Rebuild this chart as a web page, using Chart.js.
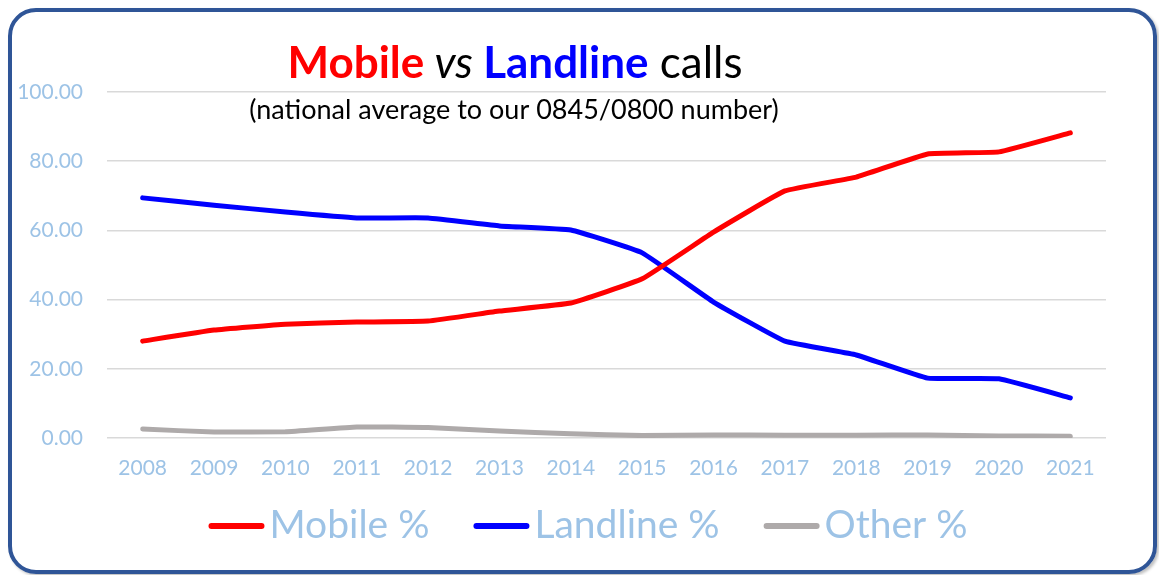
<!DOCTYPE html>
<html lang="en">
<head>
<meta charset="UTF-8">
<title>Mobile vs Landline calls</title>
<script src="https://cdn.jsdelivr.net/npm/chart.js@4.4.1/dist/chart.umd.min.js"></script>
<style>
	html, body { margin: 0; padding: 0; background: #fff; }
	#wrap { position: relative; width: 1159px; height: 575px; overflow: hidden; }
	#marco {
		position: absolute; left: 8px; top: 8px; width: 1149px; height: 566px;
		box-sizing: border-box; border: 4px solid #2F5597; border-radius: 28px;
		box-shadow: 2px 2px 3px rgba(0,0,0,0.25); pointer-events: none;
	}
	#pizarra { position: absolute; left: 0; top: 0; }
</style>
</head>
<body>
<div id="wrap">
	<canvas id="pizarra" width="1159" height="575"></canvas>
	<div id="marco"></div>
</div>
<script>
	// datos
	const years = ['2008','2009','2010','2011','2012','2013','2014','2015','2016','2017','2018','2019','2020','2021']
	const mobile = [28.0, 31.2, 32.9, 33.5, 33.8, 36.7, 39.0, 46.0, 59.5, 71.4, 75.4, 82.1, 82.7, 88.2]
	const landline = [69.4, 67.3, 65.3, 63.6, 63.6, 61.3, 60.1, 53.5, 39.3, 28.0, 24.0, 17.3, 17.1, 11.6]
	const other = [2.6, 1.7, 1.8, 3.2, 3.0, 2.0, 1.2, 0.7, 0.9, 0.8, 0.8, 0.9, 0.6, 0.5]
	const seriesNames = ['Mobile %', 'Landline %', 'Other %']
	const yTicks = [0, 20, 40, 60, 80, 100]

	const FONT = 'Lato, "Open Sans", sans-serif'
	const TICK_COLOR = '#9DC3E6'

	// titulo con colores mezclados
	const titleParts = [
		{ text: 'Mobile', color: '#FF0000', weight: 'bold', style: 'normal' },
		{ text: ' vs ', color: '#000000', weight: 'normal', style: 'italic' },
		{ text: 'Landline', color: '#0000FF', weight: 'bold', style: 'normal' },
		{ text: ' calls', color: '#000000', weight: 'normal', style: 'normal' }
	]
	const subtitle = '(national average to our 0845/0800 number)'

	const tituloPlugin = {
		id: 'titulo',
		afterDraw(chart) {
			const ctx = chart.ctx
			ctx.save()
			ctx.textBaseline = 'alphabetic'
			ctx.textAlign = 'left'
			const size = 44
			let total = 0
			titleParts.forEach(p => {
				ctx.font = p.style + ' ' + p.weight + ' ' + size + 'px ' + FONT
				p.w = ctx.measureText(p.text).width
				total += p.w
			})
			let x = 515 - total / 2
			titleParts.forEach(p => {
				ctx.font = p.style + ' ' + p.weight + ' ' + size + 'px ' + FONT
				ctx.fillStyle = p.color
				ctx.fillText(p.text, x, 78)
				x += p.w
			})
			ctx.font = '27px ' + FONT
			ctx.fillStyle = '#000000'
			ctx.textAlign = 'center'
			ctx.fillText(subtitle, 514, 119)
			ctx.restore()
		}
	}

	// leyenda dibujada a mano para acercar la linea al texto
	const leyendaPlugin = {
		id: 'leyenda',
		afterDraw(chart) {
			const ctx = chart.ctx
			const ds = chart.data.datasets
			const swatch = 56, gapText = 5, gapItem = 44
			ctx.save()
			ctx.font = '39px ' + FONT
			let widths = ds.map(d => ctx.measureText(d.label).width)
			let total = 0
			widths.forEach((w, i) => { total += swatch + gapText + w + (i < ds.length - 1 ? gapItem : 0) })
			let x = 588 - total / 2
			ds.forEach((d, i) => {
				ctx.strokeStyle = d.borderColor
				ctx.lineWidth = 6
				ctx.lineCap = 'round'
				ctx.beginPath()
				ctx.moveTo(x + 3, 526)
				ctx.lineTo(x + swatch - 3, 526)
				ctx.stroke()
				ctx.fillStyle = TICK_COLOR
				ctx.textBaseline = 'alphabetic'
				ctx.fillText(d.label, x + swatch + gapText, 538)
				x += swatch + gapText + widths[i] + gapItem
			})
			ctx.restore()
		}
	}

	const linea = (label, data, color) => ({
		label: label,
		data: data,
		borderColor: color,
		backgroundColor: color,
		borderWidth: 5,
		borderCapStyle: 'round',
		borderJoinStyle: 'round',
		pointRadius: 0,
		tension: 0.1,
		fill: false
	})

	const g = document.getElementById('pizarra')
	const myChart = new Chart(g, {
		type: 'line',
		data: {
			labels: years,
			datasets: [
				linea(seriesNames[0], mobile, '#FF0000'),
				linea(seriesNames[1], landline, '#0000FF'),
				linea(seriesNames[2], other, '#AEAAAA')
			]
		},
		options: {
			responsive: false,
			animation: false,
			layout: { padding: { top: 92, right: 53, bottom: 77, left: 0 } },
			plugins: {
				legend: { display: false },
				title: { display: false },
				tooltip: { enabled: false }
			},
			scales: {
				x: {
					offset: true,
					grid: { display: false, drawTicks: false },
					border: { display: false },
					ticks: { color: TICK_COLOR, font: { family: FONT, size: 21 }, padding: 18, maxRotation: 0 },
					afterFit: s => { s.height = 60 }
				},
				y: {
					min: 0,
					max: 100,
					grid: { color: '#D9D9D9', lineWidth: 1.5, drawTicks: false },
					border: { display: false },
					afterBuildTicks: s => { s.ticks = yTicks.map(v => ({ value: v })) },
					ticks: {
						color: TICK_COLOR,
						font: { family: FONT, size: 21 },
						padding: 24,
						callback: v => Number(v).toFixed(2)
					},
					afterFit: s => { s.width = 107 }
				}
			}
		},
		plugins: [tituloPlugin, leyendaPlugin]
	})
</script>
</body>
</html>
